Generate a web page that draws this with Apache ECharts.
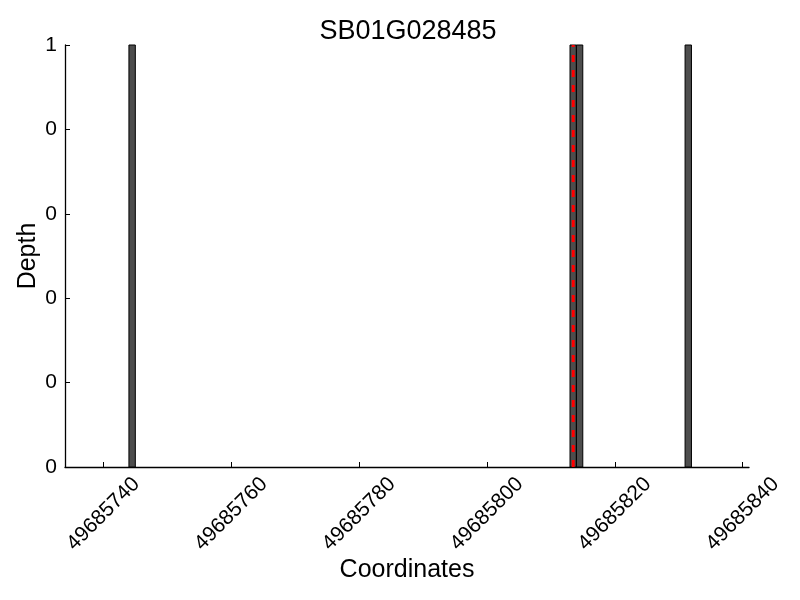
<!DOCTYPE html>
<html>
<head>
<meta charset="utf-8">
<script src="https://cdn.jsdelivr.net/npm/echarts@6/dist/echarts.min.js"></script>
<style>html,body{margin:0;padding:0;background:#fff}#c{width:800px;height:600px}</style>
</head>
<body>
<div id="c"></div>
<script>
const titleText = 'SB01G028485';
const positions = [49685744, 49685813, 49685814, 49685831];
const depths = [1, 1, 1, 1];
const markerPos = 49685813.5;
const xTicks = [49685740, 49685760, 49685780, 49685800, 49685820, 49685840];
const yTicks = [0, 0.2, 0.4, 0.6, 0.8, 1];
const yTickLabels = ['0', '0', '0', '0', '0', '1'];
const xRange = [49685734, 49685841];

const FONT = '"Liberation Sans", Arial, sans-serif';
const chart = echarts.init(document.getElementById('c'), null, {renderer: 'canvas'});
const barData = positions.map((p, i) => [p, depths[i]]);

chart.setOption({
  animation: false,
  backgroundColor: '#fff',
  title: {
    text: titleText, left: 403, top: 13, textAlign: 'center',
    textStyle: {fontFamily: FONT, fontSize: 27, fontWeight: 'normal', color: '#000'}
  },
  grid: {left: 65, right: 51, top: 45, bottom: 133, containLabel: false},
  xAxis: {
    type: 'value', min: xRange[0], max: xRange[1],
    name: 'Coordinates', nameLocation: 'middle', nameGap: 91, nameMoveOverlap: false,
    nameTextStyle: {fontFamily: FONT, fontSize: 25, color: '#000'},
    axisLine: {show: true, onZero: false, lineStyle: {color: '#000', width: 1.3}},
    axisTick: {show: true, inside: true, length: 5, customValues: xTicks, lineStyle: {color: '#000'}},
    axisLabel: {
      customValues: xTicks, rotate: 45, margin: 47, align: 'center', verticalAlign: 'middle',
      fontFamily: FONT, fontSize: 21, color: '#000',
      formatter: v => String(v)
    },
    splitLine: {show: false}
  },
  yAxis: {
    type: 'value', min: 0, max: 1, interval: 0.2,
    name: 'Depth', nameLocation: 'middle', nameGap: 24, nameRotate: 90, nameMoveOverlap: false,
    nameTextStyle: {fontFamily: FONT, fontSize: 25, color: '#000'},
    axisLine: {show: true, lineStyle: {color: '#000', width: 1.3}},
    axisTick: {show: true, inside: true, length: 5, lineStyle: {color: '#000'}},
    axisLabel: {
      margin: 8, fontFamily: FONT, fontSize: 21, color: '#000',
      formatter: v => { const i = yTicks.findIndex(t => Math.abs(t - v) < 1e-9); return i >= 0 ? yTickLabels[i] : ''; }
    },
    splitLine: {show: false}
  },
  series: [
    {
      type: 'custom',
      data: barData,
      renderItem: (params, api) => {
        const x = api.value(0), d = api.value(1);
        const p0 = api.coord([x, d]);
        const p1 = api.coord([x + 1, 0]);
        return {
          type: 'rect',
          shape: {x: p0[0], y: p0[1], width: p1[0] - p0[0], height: p1[1] - p0[1]},
          style: {fill: '#4d4d4d', stroke: '#000', lineWidth: 1}
        };
      },
      z: 2
    },
    {
      type: 'line',
      data: [[markerPos, 0], [markerPos, 1]],
      symbol: 'none',
      lineStyle: {color: '#ff0000', width: 3, type: [7, 8]},
      z: 5
    }
  ]
});
</script>
</body>
</html>
